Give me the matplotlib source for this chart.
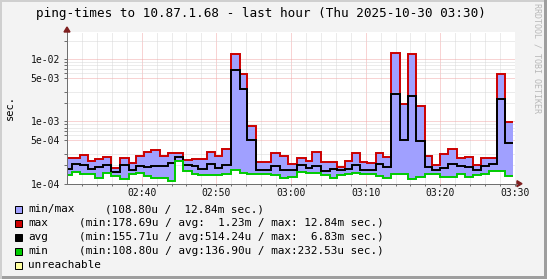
import matplotlib
matplotlib.use("Agg")
import matplotlib.pyplot as plt
from matplotlib.patches import Rectangle, Polygon
from matplotlib.ticker import FixedLocator, NullFormatter

# ---- data -------------------------------------------------------------
# step edges, minutes after 02:30
edges_min = [0.1, 0.65, 1.80, 2.79, 3.81, 4.88, 5.90, 7.15, 8.27, 9.28, 10.27, 11.25,
             12.49, 13.48, 14.52, 15.48, 16.68, 17.56, 18.69, 19.83, 20.82, 22.03,
             23.17, 24.16, 25.27, 26.30, 27.37, 28.52, 29.59, 30.84, 31.95, 32.85,
             34.05, 35.29, 36.18, 37.20, 38.19, 39.30, 40.19, 41.40, 42.27, 43.40,
             44.54, 45.61, 46.78, 47.88, 48.87, 49.98, 50.96, 52.21, 53.32, 54.35,
             55.42, 56.57, 57.55, 58.66, 59.77]

max_s = [2.56e-4, 2.56e-4, 2.86e-4, 2.29e-4, 2.52e-4, 2.72e-4, 1.79e-4, 2.62e-4, 2.15e-4, 2.76e-4,
         3.27e-4, 3.52e-4, 2.76e-4, 3.08e-4, 3.08e-4, 2.38e-4, 2.52e-4, 2.52e-4, 3.27e-4, 2.76e-4,
         3.65e-4, 1.23e-2, 5.74e-3, 8.37e-4, 2.26e-4, 2.21e-4, 3.08e-4, 2.79e-4, 2.05e-4, 2.62e-4,
         2.29e-4, 3.27e-4, 2.21e-4, 2.21e-4, 1.84e-4, 2.34e-4, 3.08e-4, 2.23e-4, 2.13e-4, 3.15e-4,
         2.66e-4, 1.284e-2, 1.89e-3, 1.20e-2, 1.80e-3, 2.76e-4, 2.00e-4, 2.97e-4, 3.65e-4, 2.56e-4,
         2.66e-4, 2.00e-4, 2.56e-4, 2.56e-4, 5.74e-3, 9.71e-4]

avg_s = [1.70e-4, 2.05e-4, 2.00e-4, 1.70e-4, 1.84e-4, 1.98e-4, 1.56e-4, 1.98e-4, 1.64e-4, 1.90e-4,
         1.84e-4, 1.90e-4, 1.90e-4, 2.13e-4, 2.64e-4, 1.98e-4, 1.90e-4, 1.70e-4, 2.05e-4, 1.77e-4,
         1.98e-4, 6.83e-3, 3.29e-3, 4.99e-4, 1.64e-4, 1.64e-4, 1.90e-4, 1.64e-4, 1.64e-4, 1.98e-4,
         1.77e-4, 1.90e-4, 1.58e-4, 1.70e-4, 1.64e-4, 1.70e-4, 1.98e-4, 1.64e-4, 1.64e-4, 2.07e-4,
         1.84e-4, 2.74e-3, 4.99e-4, 2.54e-3, 4.81e-4, 1.88e-4, 1.64e-4, 1.81e-4, 2.07e-4, 1.90e-4,
         1.88e-4, 1.64e-4, 1.90e-4, 2.07e-4, 2.28e-3, 4.51e-4]

min_s = [1.36e-4, 1.53e-4, 1.43e-4, 1.43e-4, 1.22e-4, 1.47e-4, 1.32e-4, 1.18e-4, 1.42e-4, 1.47e-4,
         1.32e-4, 1.22e-4, 1.25e-4, 1.088e-4, 2.325e-4, 1.58e-4, 1.45e-4, 1.40e-4, 1.40e-4, 1.40e-4,
         1.45e-4, 1.68e-4, 1.49e-4, 1.43e-4, 1.43e-4, 1.43e-4, 1.38e-4, 1.24e-4, 1.28e-4, 1.53e-4,
         1.47e-4, 1.47e-4, 1.38e-4, 1.24e-4, 1.37e-4, 1.43e-4, 1.47e-4, 1.43e-4, 1.43e-4, 1.32e-4,
         1.24e-4, 1.43e-4, 1.43e-4, 1.18e-4, 1.27e-4, 1.43e-4, 1.43e-4, 1.27e-4, 1.27e-4, 1.43e-4,
         1.28e-4, 1.38e-4, 1.43e-4, 1.60e-4, 1.60e-4, 1.33e-4]

x_tick_pos = [10, 20, 30, 40, 50, 60]
x_tick_labels = ["02:40", "02:50", "03:00", "03:10", "03:20", "03:30"]
y_tick_pos = [1e-4, 5e-4, 1e-3, 5e-3, 1e-2]
y_tick_labels = ["1e-04", "5e-04", "1e-03", "5e-03", "1e-02"]

title = "ping-times to 10.87.1.68 - last hour (Thu 2025-10-30 03:30)"
legend_names = ["min/max", "max", "avg", "min", "unreachable"]
legend_stats = ["(108.80u /  12.84m sec.)",
                "(min:178.69u / avg:  1.23m / max: 12.84m sec.)",
                "(min:155.71u / avg:514.24u / max:  6.83m sec.)",
                "(min:108.80u / avg:136.90u / max:232.53u sec.)",
                ""]
legend_colors = ["#A0A0FF", "#CC0000", "#000000", "#00CC00", "#FFFFA0"]

# ---- figure -----------------------------------------------------------
W, H = 547, 279
MONO = "DejaVu Sans Mono"
fig = plt.figure(figsize=(W / 100, H / 100), dpi=100, facecolor="#F3F3F3")

def fx(x):
    return x / W

def fy(y):
    return 1 - y / H

# frame shading
fig.add_artist(Rectangle((fx(W - 3), 0), 3 / W, 1, transform=fig.transFigure,
                         facecolor="#9E9E9E", edgecolor="none"))
fig.add_artist(Rectangle((0, 0), 1, 3 / H, transform=fig.transFigure,
                         facecolor="#9E9E9E", edgecolor="none"))
fig.add_artist(Rectangle((0, 0), 2 / W, 1, transform=fig.transFigure,
                         facecolor="#CFCFCF", edgecolor="none"))
fig.add_artist(Rectangle((0, fy(2)), 1 - 3 / W, 2 / H, transform=fig.transFigure,
                         facecolor="#CFCFCF", edgecolor="none"))

ax_l, ax_r, ax_t, ax_b = 67, 515, 32.3, 183.7
ax = fig.add_axes([fx(ax_l), fy(ax_b), (ax_r - ax_l) / W, (ax_b - ax_t) / H])
ax.set_facecolor("white")
ax.set_yscale("log")
ax.set_xlim(0, 60)
ax.set_ylim(1e-4, 0.02716)

# grid
minor_y = [m * 10.0 ** e for e in (-4, -3, -2) for m in (2, 3, 6, 7, 8, 9)]
minor_y = [v for v in minor_y if v < 0.0271]
minor_x = [m for m in range(2, 60, 2) if m % 10]
ax.yaxis.set_major_locator(FixedLocator(y_tick_pos))
ax.yaxis.set_minor_locator(FixedLocator(minor_y))
ax.yaxis.set_minor_formatter(NullFormatter())
ax.set_yticklabels(y_tick_labels)
ax.xaxis.set_major_locator(FixedLocator(x_tick_pos))
ax.xaxis.set_minor_locator(FixedLocator(minor_x))
ax.set_xticklabels(x_tick_labels)
dot = (0, (1, 1))
ax.grid(which="minor", color="#D8D8D8", linestyle=dot, linewidth=0.72)
ax.grid(which="major", color="#F2A8A8", linestyle=dot, linewidth=0.72)
ax.set_axisbelow(True)

for s in ("top", "right"):
    ax.spines[s].set_visible(False)
for s in ("left", "bottom"):
    ax.spines[s].set_color("#707070")
    ax.spines[s].set_linewidth(0.72)
ax.tick_params(which="both", length=2, width=0.72, color="#707070", direction="out")
ax.tick_params(axis="y", labelsize=7, pad=3, labelcolor="#111111")
ax.tick_params(axis="x", which="both", length=1.5)
ax.tick_params(axis="x", labelsize=7, pad=1.8, labelcolor="#111111")
for lab in ax.get_xticklabels() + ax.get_yticklabels():
    lab.set_family(MONO)

# data
ax.stairs(max_s, edges_min, baseline=min_s, fill=True, color="#A0A0FF", linewidth=0)
ax.stairs(max_s, edges_min, baseline=None, color="#CC0000", linewidth=1.4)
ax.stairs(avg_s, edges_min, baseline=None, color="#000000", linewidth=1.4)
ax.stairs(min_s, edges_min, baseline=None, color="#00CC00", linewidth=1.4)

# axis arrows
arrow_c = "#7F1F1F"
fig.add_artist(Polygon([(fx(64), fy(32)), (fx(70), fy(32)), (fx(67), fy(27))],
                       closed=True, transform=fig.transFigure, color=arrow_c))
fig.add_artist(Polygon([(fx(517), fy(180.7)), (fx(517), fy(186.7)), (fx(522), fy(183.7))],
                       closed=True, transform=fig.transFigure, color=arrow_c))
fig.add_artist(plt.Line2D([fx(515), fx(517)], [fy(183.7), fy(183.7)],
                          transform=fig.transFigure, color="#707070", linewidth=0.72))

# texts
fig.text(fx(260.5), fy(13.3), title, ha="center", va="center", fontsize=9.05,
         family=MONO, color="#000000")
fig.text(fx(10), fy(107), "sec.", rotation=90, ha="center", va="center",
         fontsize=7.5, family=MONO, color="#000000")
fig.text(fx(537), fy(3), "RRDTOOL / TOBI OETIKER", rotation=270, ha="center",
         va="top", fontsize=6, family=MONO, color="#B8B8B8")

row_y = [209.3, 223.4, 237.4, 251.3, 265.2]
for i, (name, stat, col) in enumerate(zip(legend_names, legend_stats, legend_colors)):
    y = row_y[i]
    fig.add_artist(Rectangle((fx(15), fy(y + 4)), 7 / W, 7 / H, transform=fig.transFigure,
                             facecolor=col, edgecolor="#000000", linewidth=0.72))
    fig.text(fx(28.3), fy(y), name, ha="left", va="center", fontsize=7.9,
             family=MONO, color="#000000")
    if stat:
        sx = 105 if i == 0 else 78.7
        fig.text(fx(sx), fy(y), stat, ha="left", va="center", fontsize=7.9,
                 family=MONO, color="#000000")

fig.savefig("out.png", dpi=100, facecolor=fig.get_facecolor())
